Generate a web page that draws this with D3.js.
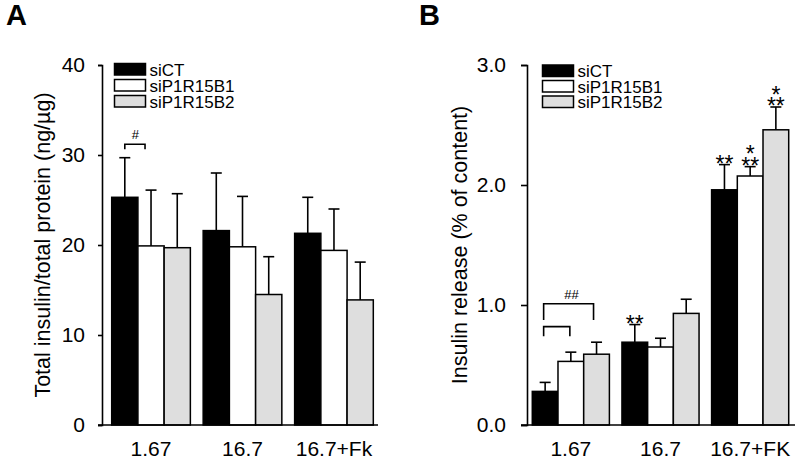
<!DOCTYPE html>
<html><head><meta charset="utf-8">
<script src="https://cdn.jsdelivr.net/npm/d3@7"></script>
<style>html,body{margin:0;padding:0;background:#fff;} svg{display:block;font-family:"Liberation Sans",Arial,sans-serif;}</style>
</head><body><svg id="chart" width="800" height="464"></svg>
<script>
// ---------- data ----------
const series = ["siCT", "siP1R15B1", "siP1R15B2"];
const groupsA = ["1.67", "16.7", "16.7+Fk"];
const groupsB = ["1.67", "16.7", "16.7+FK"];

const contentSiCT = [25.3, 21.6, 21.3];
const contentSiCTErr = [4.4, 6.4, 4.0];
const contentB1 = [19.9, 19.8, 19.4];
const contentB1Err = [6.2, 5.6, 4.6];
const contentB2 = [19.7, 14.5, 13.9];
const contentB2Err = [6.0, 4.2, 4.2];

const releaseSiCT = [0.28, 0.69, 1.96];
const releaseSiCTErr = [0.075, 0.147, 0.21];
const releaseB1 = [0.53, 0.65, 2.075];
const releaseB1Err = [0.077, 0.073, 0.078];
const releaseB2 = [0.59, 0.93, 2.46];
const releaseB2Err = [0.10, 0.118, 0.19];

const ticksA = [0, 10, 20, 30, 40];
const ticksB = [0, 1, 2, 3];

const sigReleaseSiCT = [[], ["**"], ["**"]];
const sigReleaseB1 = [[], [], ["*", "**"]];
const sigReleaseB2 = [[], [], ["*", "**"]];

const fills = ["#000000", "#ffffff", "#dedede"];

// ---------- drawing ----------
const svg = d3.select("#chart");

function panel(cfg) {
  const g = svg.append("g");
  const y = d3.scaleLinear().domain(cfg.domain).range([425, 65]);
  const x0 = d3.scaleBand().domain(cfg.groups).range([cfg.axisX, cfg.rangeEnd])
    .paddingInner(0.14).paddingOuter(cfg.po);
  const x1 = d3.scaleBand().domain(series).range([0, x0.bandwidth()]);

  const rows = [];
  cfg.groups.forEach((grp, i) => series.forEach((s, j) => {
    rows.push({ grp, s, i, j, v: cfg.means[j][i], e: cfg.errs[j][i], sig: cfg.sig ? cfg.sig[j][i] : [] });
  }));
  const cx = d => x0(d.grp) + x1(d.s) + x1.bandwidth() / 2;

  // error bars (upper)
  const eb = g.append("g").attr("stroke", "#000").attr("stroke-width", 1.6);
  eb.selectAll("line.v").data(rows).join("line")
    .attr("x1", cx).attr("x2", cx)
    .attr("y1", d => y(d.v)).attr("y2", d => y(d.v + d.e));
  eb.selectAll("line.c").data(rows).join("line")
    .attr("x1", d => cx(d) - 5.5).attr("x2", d => cx(d) + 5.5)
    .attr("y1", d => y(d.v + d.e)).attr("y2", d => y(d.v + d.e));

  // bars
  g.append("g").selectAll("rect").data(rows).join("rect")
    .attr("x", d => x0(d.grp) + x1(d.s))
    .attr("width", x1.bandwidth())
    .attr("y", d => y(d.v))
    .attr("height", d => y(0) - y(d.v))
    .attr("fill", d => fills[d.j])
    .attr("stroke", "#000").attr("stroke-width", 1.5);

  // significance stars
  rows.forEach(d => {
    d.sig.slice().reverse().forEach((t, k) => {
      g.append("text").attr("x", cx(d)).attr("y", y(d.v + d.e) + 7 - k * 11.5)
        .attr("text-anchor", "middle").attr("font-size", 23).text(t);
    });
  });

  // y axis
  const ya = g.append("g").attr("transform", `translate(${cfg.axisX},0)`)
    .call(d3.axisLeft(y).tickValues(cfg.ticks).tickSize(cfg.tickSize).tickSizeOuter(cfg.tickSize)
      .tickPadding(cfg.tickPad).tickFormat(cfg.fmt));
  ya.selectAll("path,line").attr("stroke-width", 1.6);
  ya.selectAll("text").attr("font-size", 21).attr("fill", "#000")
    .attr("font-family", '"Liberation Sans",Arial,sans-serif');

  // x axis labels
  const xa = g.append("g").attr("transform", `translate(0,${y(0)})`)
    .call(d3.axisBottom(x0).tickSize(0).tickPadding(16));
  xa.select(".domain").remove();
  xa.selectAll("text").attr("font-size", 21).attr("fill", "#000")
    .attr("font-family", '"Liberation Sans",Arial,sans-serif');
  g.append("line").attr("x1", cfg.axisX - cfg.tickSize).attr("x2", cfg.baseEnd)
    .attr("y1", y(0)).attr("y2", y(0)).attr("stroke", "#000").attr("stroke-width", 1.6);

  // y title
  g.append("text").attr("transform", `translate(${cfg.titleX},${(y.range()[0] + y.range()[1]) / 2}) rotate(-90)`)
    .attr("text-anchor", "middle").attr("font-size", 21.5).text(cfg.title);

  // panel letter
  g.append("text").attr("x", cfg.letterX).attr("y", 25).attr("font-size", 29)
    .attr("font-weight", "bold").text(cfg.letter);

  // legend
  const lg = g.append("g");
  series.forEach((s, j) => {
    const top = cfg.legY + j * cfg.legStep;
    lg.append("rect").attr("x", cfg.legX).attr("y", top).attr("width", 31).attr("height", 11.5)
      .attr("fill", fills[j]).attr("stroke", "#000").attr("stroke-width", 1.5);
    lg.append("text").attr("x", cfg.legX + 35).attr("y", top + 12).attr("font-size", 17).text(s);
  });

  return { g, x0, x1, y };
}

const A = panel({
  groups: groupsA, domain: [0, 40], ticks: ticksA, fmt: d3.format("d"),
  means: [contentSiCT, contentB1, contentB2], errs: [contentSiCTErr, contentB1Err, contentB2Err],
  axisX: 102, rangeEnd: 383, po: 0.106, baseEnd: 378, tickSize: 4, tickPad: 13,
  titleX: 50, title: "Total insulin/total protein (ng/µg)", letter: "A", letterX: 6,
  legX: 114.5, legY: 63.5, legStep: 16
});

const B = panel({
  groups: groupsB, domain: [0, 3], ticks: ticksB, fmt: d3.format(".1f"),
  means: [releaseSiCT, releaseB1, releaseB2], errs: [releaseSiCTErr, releaseB1Err, releaseB2Err],
  sig: [sigReleaseSiCT, sigReleaseB1, sigReleaseB2],
  axisX: 527, rangeEnd: 794, po: 0.059, baseEnd: 795, tickSize: 6, tickPad: 15,
  titleX: 467, title: "Insulin release (% of content)", letter: "B", letterX: 419,
  legX: 542.5, legY: 65, legStep: 15.5
});

// brackets
function bracket(p, xa, xb, top, leg, label, labelDx) {
  const path = d3.path();
  path.moveTo(xa, p.y(leg)); path.lineTo(xa, p.y(top)); path.lineTo(xb, p.y(top)); path.lineTo(xb, p.y(leg));
  p.g.append("path").attr("d", path.toString()).attr("fill", "none").attr("stroke", "#000").attr("stroke-width", 1.6);
  if (label) {
    p.g.append("text").attr("x", (xa + xb) / 2 + labelDx).attr("y", p.y(top) - 5)
      .attr("text-anchor", "middle").attr("font-size", 13).text(label);
  }
}
const ctr = (p, grp, s) => p.x0(grp) + p.x1(s) + p.x1.bandwidth() / 2;

bracket(A, ctr(A, groupsA[0], series[0]), ctr(A, groupsA[0], series[1]) - 6, 31.2, 30.65, "#", 0.5);
bracket(B, ctr(B, groupsB[0], series[0]) - 1.5, ctr(B, groupsB[0], series[2]) - 3, 1.01, 0.875, "##", 3);
bracket(B, ctr(B, groupsB[0], series[0]) - 1.5, ctr(B, groupsB[0], series[1]) - 1, 0.82, 0.74, null, 0);
</script></body></html>
